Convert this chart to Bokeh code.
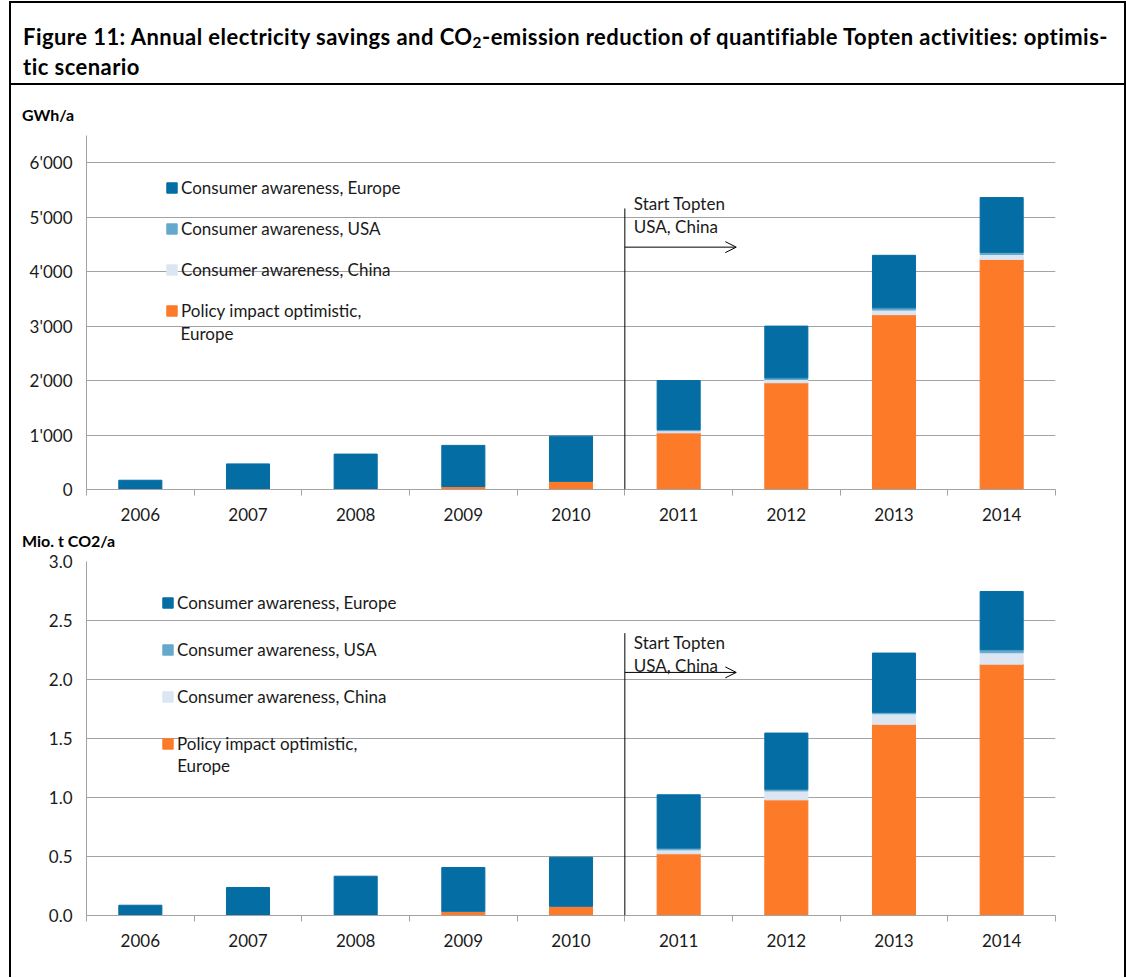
from bokeh.plotting import figure
from bokeh.models import (ColumnDataSource, FixedTicker, Legend, LegendItem, Arrow,
                          OpenHead, Label, Div, Range1d)
from bokeh.layouts import column
from bokeh.embed import file_html
from bokeh.resources import INLINE

# ---------------- data ----------------
years = ["2006", "2007", "2008", "2009", "2010", "2011", "2012", "2013", "2014"]

series_keys = ["policy", "china", "usa", "europe"]          # stacking order, bottom -> top
series_labels = ["Policy impact optimistic,", "Consumer awareness, China",
                 "Consumer awareness, USA", "Consumer awareness, Europe"]
policy_label_line2 = "Europe"
series_colors = ["#FC7A28", "#DCE6F2", "#64A9CC", "#046DA4"]

# Electricity savings, GWh/a
gwh_policy = [0, 0, 0, 55, 150, 1040, 1960, 3210, 4225]
gwh_china = [0, 0, 0, 0, 0, 40, 60, 85, 90]
gwh_usa = [0, 0, 0, 0, 0, 20, 30, 40, 40]
gwh_europe = [170, 470, 650, 755, 830, 900, 950, 965, 1005]

# CO2 reduction, Mio. t CO2/a
co2_policy = [0, 0, 0, 0.036, 0.079, 0.523, 0.98, 1.62, 2.13]
co2_china = [0, 0, 0, 0, 0, 0.034, 0.076, 0.09, 0.097]
co2_usa = [0, 0, 0, 0, 0, 0.014, 0.015, 0.012, 0.025]
co2_europe = [0.087, 0.237, 0.333, 0.371, 0.415, 0.452, 0.475, 0.502, 0.494]

gwh_ticks = [0, 1000, 2000, 3000, 4000, 5000, 6000]
gwh_tick_labels = ["0", "1'000", "2'000", "3'000", "4'000", "5'000", "6'000"]
co2_ticks = [0, 0.5, 1.0, 1.5, 2.0, 2.5, 3.0]
co2_tick_labels = ["0.0", "0.5", "1.0", "1.5", "2.0", "2.5", "3.0"]

title_line1 = "Figure 11: Annual electricity savings and CO<sub>2</sub>-emission reduction of quantifiable Topten activities: optimis-"
title_line2 = "tic scenario"
unit_top = "GWh/a"
unit_bottom = "Mio. t CO2/a"
marker_text = "Start Topten\nUSA, China"

FONT = "Lato"
GRID = "#A3A3A3"
TXT = "#1a1a1a"
FIG_W = 1113


def make_chart(values, y_max, ticks, tick_labels, height, b_top, b_bottom, marker, leg):
    n = len(years)
    data = dict(x=[i + 0.5 for i in range(n)])
    for k, v in zip(series_keys, values):
        data[k] = v
    src = ColumnDataSource(data)

    p = figure(width=FIG_W, height=height, x_range=Range1d(0, n), y_range=Range1d(0, y_max),
               output_backend="svg", toolbar_location=None,
               min_border_left=75, min_border_right=69,
               min_border_top=b_top, min_border_bottom=b_bottom)
    p.outline_line_color = None
    p.background_fill_color = "white"
    p.border_fill_color = "white"

    rs = p.vbar_stack(series_keys, x="x", width=0.4, color=series_colors, source=src)

    # axes
    xt = FixedTicker(ticks=[i + 0.5 for i in range(n)], minor_ticks=list(range(n + 1)))
    p.xaxis.ticker = xt
    p.xaxis.major_label_overrides = {i + 0.5: y for i, y in enumerate(years)}
    p.xaxis.major_tick_line_color = None
    p.xaxis.major_tick_in = 0
    p.xaxis.major_tick_out = 0
    p.xaxis.minor_tick_line_color = GRID
    p.xaxis.minor_tick_in = 0
    p.xaxis.minor_tick_out = 6
    p.xaxis.axis_line_color = GRID
    p.xaxis.major_label_standoff = 12
    p.xgrid.visible = False

    p.yaxis.ticker = FixedTicker(ticks=ticks)
    p.yaxis.major_label_overrides = {t: l for t, l in zip(ticks, tick_labels)}
    p.yaxis.major_tick_line_color = None
    p.yaxis.minor_tick_line_color = None
    p.yaxis.major_tick_in = 0
    p.yaxis.major_tick_out = 0
    p.yaxis.axis_line_color = GRID
    p.yaxis.major_label_standoff = 14
    p.ygrid.ticker = FixedTicker(ticks=ticks)
    p.ygrid.grid_line_color = GRID

    for ax in (p.xaxis, p.yaxis):
        ax.major_label_text_font = FONT
        ax.major_label_text_font_size = "17px"
        ax.major_label_text_color = TXT

    # legend (reverse stack order)
    items = [LegendItem(label=lab, renderers=[r]) for lab, r in zip(series_labels, rs)][::-1]
    legend = Legend(items=items, location=leg["loc"], orientation="vertical",
                    background_fill_alpha=0, border_line_color=None,
                    glyph_width=13, glyph_height=13, label_height=20,
                    spacing=leg["spacing"], padding=0, margin=0, label_standoff=3,
                    label_text_font=FONT, label_text_font_size="17px",
                    label_text_color=TXT)
    p.add_layout(legend, "center")
    p.add_layout(Label(x=leg["line2_x"], y=leg["line2_y"], text=policy_label_line2,
                       text_font=FONT, text_font_size="17px", text_color=TXT,
                       text_baseline="middle"))

    # "Start Topten" marker
    p.add_layout(Arrow(end=None, x_start=marker["x"], y_start=0, x_end=marker["x"],
                       y_end=marker["line_top"], line_color="black", line_width=1))
    p.add_layout(Arrow(end=OpenHead(size=11, line_width=1, line_color="black"),
                       x_start=marker["x"], y_start=marker["arrow_y"],
                       x_end=marker["arrow_end"], y_end=marker["arrow_y"],
                       line_color="black", line_width=1))
    p.add_layout(Label(x=marker["x"], y=marker["text_y"], x_offset=9, text=marker_text,
                       text_font=FONT, text_font_size="17px", text_color=TXT,
                       text_baseline="top", text_line_height=1.1))
    return p


def unit_div(text, height, pad_top, line_h):
    return Div(text=('<div style="box-sizing:border-box;width:%dpx;height:%dpx;'
                     'padding:%dpx 0 0 11px;font-family:Lato;font-weight:bold;font-size:16px;'
                     'line-height:%dpx;white-space:nowrap;color:#000;overflow:visible;">%s</div>'
                     % (FIG_W, height, pad_top, line_h, text)),
               width=FIG_W, height=height, margin=0)


top = make_chart([gwh_policy, gwh_china, gwh_usa, gwh_europe], 6500,
                 gwh_ticks, gwh_tick_labels, height=403, b_top=10, b_bottom=39,
                 marker=dict(x=5, line_top=5160, arrow_y=4450, arrow_end=6.035, text_y=5440),
                 leg=dict(loc=(79, 168), spacing=20, line2_x=0.873, line2_y=2868))
bottom = make_chart([co2_policy, co2_china, co2_usa, co2_europe], 3.0,
                    co2_ticks, co2_tick_labels, height=429, b_top=13, b_bottom=62,
                    marker=dict(x=5, line_top=2.393, arrow_y=2.06, arrow_end=6.035, text_y=2.40),
                    leg=dict(loc=(75, 161), spacing=26, line2_x=0.842, line2_y=1.269))

title = Div(text=(
    '<div style="box-sizing:border-box;width:%dpx;height:82px;border-bottom:2px solid #000;'
    'padding:19px 0 0 12px;font-family:Lato;font-weight:bold;font-size:22px;'
    'letter-spacing:0.45px;line-height:30px;white-space:nowrap;color:#000;">' % FIG_W
    + title_line1 + '<br>' + title_line2 + '</div>').replace(
        "<sub>", '<sub style="font-size:0.7em;line-height:0;vertical-align:-0.2em;">'),
    width=FIG_W, height=82, margin=0)

layout = column(title, unit_div(unit_top, 40, 20, 20), top,
                unit_div(unit_bottom, 20, 0, 26), bottom, spacing=0,
                styles={"border-left": "2px solid #000", "border-top": "2px solid #000",
                        "border-right": "2px solid #000", "margin-left": "9px",
                        "margin-top": "1px"})

open("out.html", "w").write(file_html(layout, INLINE))
